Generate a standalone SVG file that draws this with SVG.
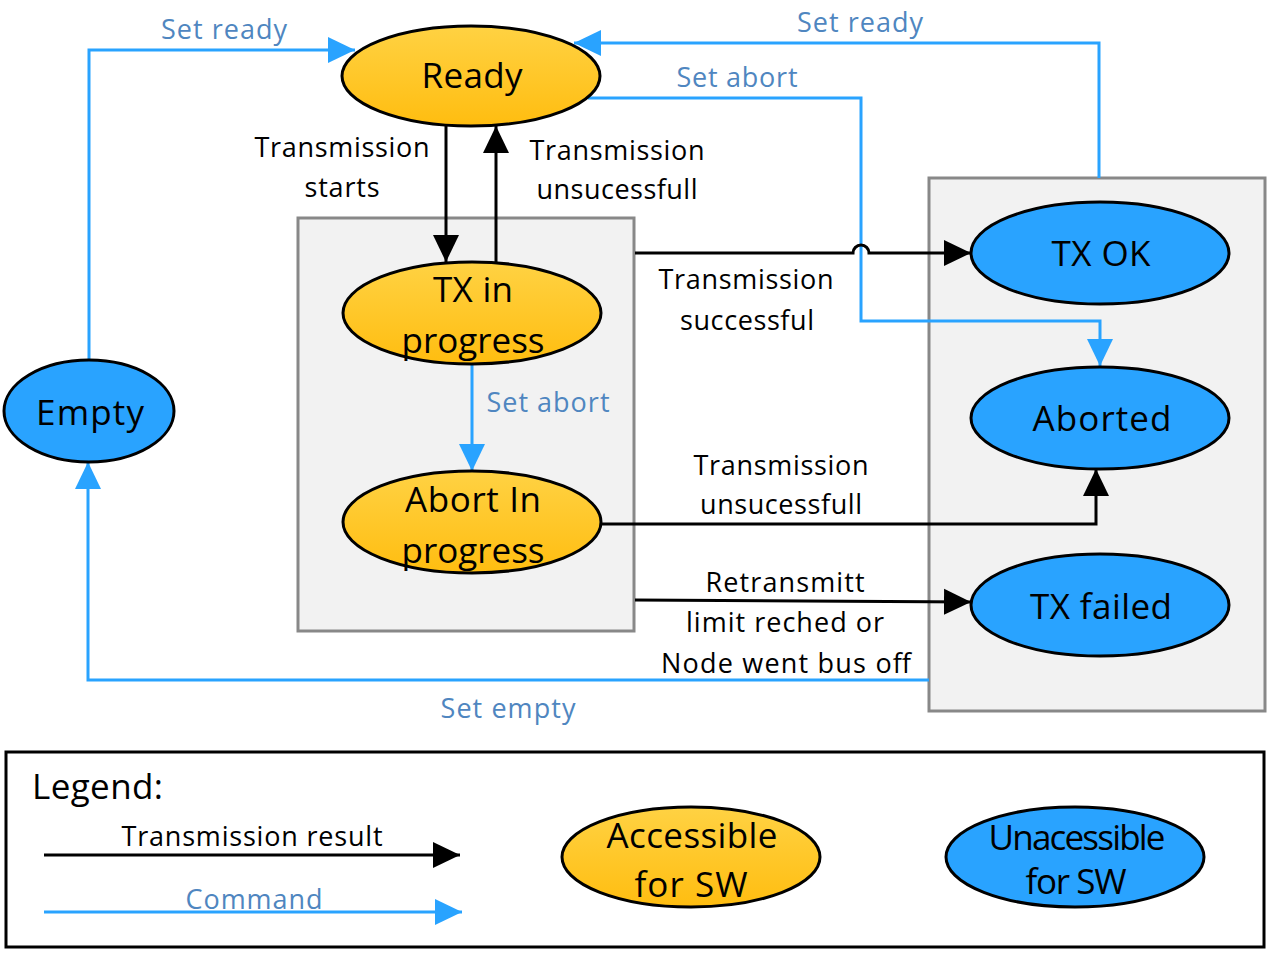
<svg xmlns="http://www.w3.org/2000/svg" width="1271" height="953" viewBox="0 0 1271 953">
<style>
text{font-family:"Open Sans","Noto Sans","Liberation Sans",sans-serif;text-anchor:middle;fill:#000}
.big{font-size:35px}
.lbl{font-size:27px}
.cmd{fill:#4f86c0}
.yel{fill:url(#yg);stroke:#000;stroke-width:3}
.blu{fill:#29a3ff;stroke:#000;stroke-width:3}
.box{fill:#f2f2f2;stroke:#888;stroke-width:3}
.bl{fill:none;stroke:#000;stroke-width:3}
.cl{fill:none;stroke:#29a3ff;stroke-width:3}
</style>
<defs>
<linearGradient id="yg" x1="0" y1="0" x2="0" y2="1">
<stop offset="0" stop-color="#ffd243"/>
<stop offset="1" stop-color="#ffbd10"/>
</linearGradient>
<marker id="ab" markerUnits="userSpaceOnUse" markerWidth="28" markerHeight="28" refX="27" refY="14" orient="auto" viewBox="0 0 28 28"><path d="M0,1 L27,14 L0,27 z" fill="#000"/></marker>
<marker id="ac" markerUnits="userSpaceOnUse" markerWidth="28" markerHeight="28" refX="27" refY="14" orient="auto" viewBox="0 0 28 28"><path d="M0,1 L27,14 L0,27 z" fill="#29a3ff"/></marker>
</defs>
<rect x="0" y="0" width="1271" height="953" fill="#fff"/>
<g id="groups">
<rect class="box" x="298" y="218" width="336" height="413"/>
<rect class="box" x="929" y="178" width="336" height="533"/>
</g>
<g id="connectors">
<path class="cl" d="M89,360 V50 H355" marker-end="url(#ac)"/>
<path class="cl" d="M1099,178 V43 H574" marker-end="url(#ac)"/>
<path class="cl" d="M588,98 H861 V321 H1100 V366" marker-end="url(#ac)"/>
<path class="bl" d="M446,126 V262" marker-end="url(#ab)"/>
<path class="bl" d="M496,262 V126" marker-end="url(#ab)"/>
<path class="bl" d="M635,253 H853 A8,8 0 0 1 869,253 H971" marker-end="url(#ab)"/>
<path class="cl" d="M472,364 V471" marker-end="url(#ac)"/>
<path class="bl" d="M601,524 H1096 V469" marker-end="url(#ab)"/>
<path class="bl" d="M635,600 L971,602" marker-end="url(#ab)"/>
<path class="cl" d="M929,680 H88 V462" marker-end="url(#ac)"/>
<text class="lbl cmd" x="224" y="39" textLength="126">Set ready</text>
<text class="lbl cmd" x="860" y="32" textLength="126">Set ready</text>
<text class="lbl cmd" x="737" y="87" textLength="121">Set abort</text>
<text class="lbl" x="342" y="157" textLength="175">Transmission</text>
<text class="lbl" x="342" y="197" textLength="75">starts</text>
<text class="lbl" x="617" y="160" textLength="175">Transmission</text>
<text class="lbl" x="617" y="199" textLength="161">unsucessfull</text>
<text class="lbl" x="746" y="289" textLength="175">Transmission</text>
<text class="lbl" x="747" y="330" textLength="134">successful</text>
<text class="lbl cmd" x="548" y="412" textLength="123">Set abort</text>
<text class="lbl" x="781" y="475" textLength="175">Transmission</text>
<text class="lbl" x="781" y="514" textLength="162">unsucessfull</text>
<text class="lbl" x="785" y="592" textLength="159">Retransmitt</text>
<text class="lbl" x="785" y="632" textLength="198">limit reched or</text>
<text class="lbl" x="786" y="673" textLength="250">Node went bus off</text>
<text class="lbl cmd" x="508" y="718" textLength="135">Set empty</text>
</g>
<g id="ready"><ellipse class="yel" cx="471" cy="76" rx="129" ry="50"/><text class="big" x="472" y="88" textLength="101">Ready</text></g>
<g id="txinprogress"><ellipse class="yel" cx="472" cy="313" rx="129" ry="51"/><text class="big" x="473" y="302" textLength="80">TX in</text><text class="big" x="473" y="353" textLength="143">progress</text></g>
<g id="abortinprogress"><ellipse class="yel" cx="472" cy="522" rx="129" ry="51"/><text class="big" x="473" y="512" textLength="136">Abort In</text><text class="big" x="473" y="563" textLength="143">progress</text></g>
<g id="empty"><ellipse class="blu" cx="89" cy="411" rx="85" ry="51"/><text class="big" x="90" y="425" textLength="108">Empty</text></g>
<g id="txok"><ellipse class="blu" cx="1100" cy="253" rx="129" ry="51"/><text class="big" x="1101" y="266" textLength="99">TX OK</text></g>
<g id="aborted"><ellipse class="blu" cx="1100" cy="418" rx="129" ry="51"/><text class="big" x="1102" y="431" textLength="139">Aborted</text></g>
<g id="txfailed"><ellipse class="blu" cx="1100" cy="605" rx="129" ry="51"/><text class="big" x="1101" y="619" textLength="142">TX failed</text></g>
<g id="legend">
<rect x="6" y="752" width="1258" height="195" fill="none" stroke="#000" stroke-width="3"/>
<text class="big" x="32" y="799" style="text-anchor:start" textLength="131">Legend:</text>
<path class="bl" d="M44,855 H460" marker-end="url(#ab)"/>
<text class="lbl" x="252" y="846" textLength="261">Transmission result</text>
<path class="cl" d="M44,912 H462" marker-end="url(#ac)"/>
<text class="lbl cmd" x="254" y="909" textLength="137">Command</text>
<g id="legend-accessible"><ellipse class="yel" cx="691" cy="857" rx="129" ry="50"/><text class="big" x="692" y="848" textLength="171">Accessible</text><text class="big" x="691" y="897" textLength="113">for SW</text></g>
<g id="legend-unaccessible"><ellipse class="blu" cx="1075" cy="857" rx="129" ry="50"/><text class="big" x="1077" y="850" textLength="177">Unacessible</text><text class="big" x="1076" y="894" textLength="101">for SW</text></g>
</g>
</svg>
